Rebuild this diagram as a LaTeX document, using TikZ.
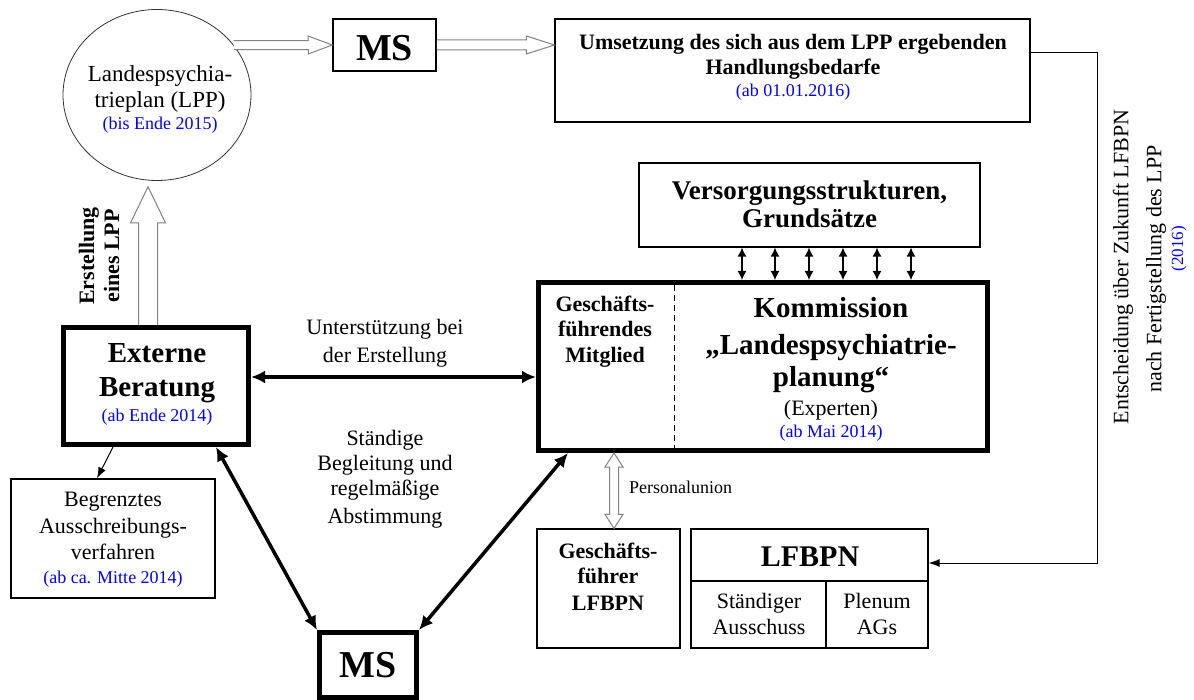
\documentclass[tikz,border=0pt]{standalone}
\usepackage{fontspec}
\setmainfont{Liberation Serif}
\usetikzlibrary{arrows.meta,calc,shapes.geometric}
\definecolor{lblue}{RGB}{0,0,255}
\definecolor{hgray}{RGB}{130,130,130}
\newcommand{\hollowarrow}[5]{%
  \coordinate (hwH) at ($(#2)!#5!(#1)$);
  \filldraw[hollow] ($(#1)!#3!90:(#2)$) -- ($(hwH)!#3!90:(#2)$) -- ($(hwH)!#4!90:(#2)$) -- (#2) -- ($(hwH)!#4!-90:(#2)$) -- ($(hwH)!#3!-90:(#2)$) -- ($(#1)!#3!-90:(#2)$);
}
\newcommand{\hollowdbl}[5]{%
  \coordinate (hdA) at ($(#1)!#5!(#2)$);
  \coordinate (hdB) at ($(#2)!#5!(#1)$);
  \filldraw[hollow] (#1) -- ($(hdA)!#4!90:(#2)$) -- ($(hdA)!#3!90:(#2)$) -- ($(hdB)!#3!90:(#2)$) -- ($(hdB)!#4!90:(#2)$) -- (#2) -- ($(hdB)!#4!-90:(#2)$) -- ($(hdB)!#3!-90:(#2)$) -- ($(hdA)!#3!-90:(#2)$) -- ($(hdA)!#4!-90:(#2)$) -- cycle;
}
\tikzset{
  tbox/.style={draw, rectangle, line width=1.2pt, inner sep=0},
  kbox/.style={draw, rectangle, line width=5pt, inner sep=0},
  rt/.style={inner sep=0, anchor=base, font=\fontsize{22}{26}\selectfont},
  bt/.style={inner sep=0, anchor=base, font=\fontsize{22}{26}\selectfont\bfseries},
  big/.style={inner sep=0, anchor=base, font=\fontsize{29}{34}\selectfont\bfseries},
  bl/.style={inner sep=0, anchor=base, text=lblue, font=\fontsize{18}{22}\selectfont},
  mstxt/.style={inner sep=0, anchor=base, font=\fontsize{38}{40}\selectfont\bfseries},
  hollow/.style={draw=hgray, fill=white, line width=1pt, line join=miter},
  thickdbl/.style={line width=3.5pt, {Latex[length=14pt,width=13pt]}-{Latex[length=14pt,width=13pt]}},
  smalldbl/.style={line width=1.2pt, {Latex[length=9pt,width=9pt]}-{Latex[length=9pt,width=9pt]}},
  thinarr/.style={line width=1pt, -{Latex[length=11pt,width=8pt]}},
}
\begin{document}
\begin{tikzpicture}[x=1pt,y=-1pt]
\fill[white] (0,0) rectangle (1194,700);
\useasboundingbox (0,0) rectangle (1194,700);

% circle LPP
\node[ellipse, draw=black!80, line width=0.8pt, minimum width=188pt, minimum height=171pt, inner sep=0] (circ) at (157,95) {};
\node[rt, font=\fontsize{23}{26}\selectfont] (c1) at (160,82) {Landespsychia-};
\node[rt, font=\fontsize{23}{26}\selectfont] (c2) at (160,108) {trieplan (LPP)};
\node[bl] (c3) at (160,130) {(bis Ende 2015)};

% top MS
\node[tbox, line width=1.5pt, minimum width=103pt, minimum height=52pt] (ms1) at (384.5,45) {};
\node[mstxt] (ms1t) at (384.5,61) {MS};

% Umsetzung
\node[tbox, minimum width=475pt, minimum height=103pt] (umset) at (792.5,70.5) {};
\node[bt] (u1) at (793,50) {Umsetzung des sich aus dem LPP ergebenden};
\node[bt] (u2) at (793,75) {Handlungsbedarfe};
\node[bl] (u3) at (793,97) {(ab 01.01.2016)};

% hollow arrows top
\hollowarrow{circ.33}{ms1.west}{4.5pt}{9pt}{24pt}
\coordinate (uW) at ([yshift=25.5pt]umset.west);
\hollowarrow{ms1.east}{uW}{5pt}{9pt}{28pt}

% Versorgungsstrukturen
\node[tbox, minimum width=341pt, minimum height=84pt] (vers) at (809.5,205) {};
\node[bt, font=\fontsize{27}{30}\selectfont\bfseries] (v1) at (809.5,200) {Versorgungsstrukturen,};
\node[bt, font=\fontsize{27}{30}\selectfont\bfseries] (v2) at (809.5,228) {Grundsätze};

% Kommission
\node[kbox, minimum width=449pt, minimum height=168pt] (komm) at (763,366.5) {};
\draw[dashed, line width=0.8pt, dash pattern=on 6pt off 4pt] (674,285) -- (674,449);
\node[bt] (k1) at (605,312) {Geschäfts-};
\node[bt] (k2) at (605,337) {führendes};
\node[bt] (k3) at (605,363) {Mitglied};
\node[big] (k4) at (831,318) {Kommission};
\node[big] (k5) at (831,355) {„Landespsychiatrie-};
\node[big] (k6) at (831,387) {planung“};
\node[rt] (k7) at (831,415) {(Experten)};
\node[bl] (k8) at (831,437) {(ab Mai 2014)};

\foreach \xx in {742,775,809,843,877,911}
  \draw[smalldbl] ($(vers.south west)+(\xx-638.4,0)$) -- ($(komm.north west)+(\xx-536,0)$);

% Externe Beratung
\node[kbox, minimum width=185pt, minimum height=117pt] (ext) at (156,386) {};
\node[big] (e1) at (157,363) {Externe};
\node[big] (e2) at (157,397) {Beratung};
\node[bl] (e3) at (157,421) {(ab Ende 2014)};

% Erstellung eines LPP
\node[rotate=90, align=center, inner sep=0, font=\fontsize{22}{25}\selectfont\bfseries] (erst) at (99,256) {Erstellung\\eines LPP};
\coordinate (eN) at ([xshift=-8pt]ext.north);
\coordinate (cS) at ([xshift=-9pt,yshift=-6pt]circ.south);
\hollowarrow{eN}{cS}{9.5pt}{17.5pt}{36pt}

% Unterstuetzung
\node[rt] (s1) at (385,335) {Unterstützung bei};
\node[rt] (s2) at (385,363) {der Erstellung};
\coordinate (eE) at ([yshift=9pt]ext.east);
\draw[thickdbl] (eE) -- (eE -| komm.west);

% Staendige
\node[rt] (a1) at (385,445) {Ständige};
\node[rt] (a2) at (385,470) {Begleitung und};
\node[rt] (a3) at (385,495) {regelmäßige};
\node[rt] (a4) at (385,523) {Abstimmung};

% Begrenztes
\node[tbox, minimum width=204pt, minimum height=119pt] (begr) at (113,538.5) {};
\node[rt] (b1) at (113,506) {Begrenztes};
\node[rt] (b2) at (113,533) {Ausschreibungs-};
\node[rt] (b3) at (113,559) {verfahren};
\node[bl] (b4) at (113,583) {(ab ca. Mitte 2014)};
\draw[thinarr] ([xshift=-43pt]ext.south) -- ([xshift=-16pt]begr.north);

% bottom MS
\node[kbox, minimum width=97pt, minimum height=64.5pt] (ms2) at (368,664.75) {};
\node[mstxt] (ms2t) at (368,677) {MS};
\draw[thickdbl] ([xshift=60pt]ext.south) -- (ms2.north west);
\draw[thickdbl] ([xshift=32pt]komm.south west) -- (ms2.north east);

% Geschaeftsfuehrer
\node[tbox, minimum width=143pt, minimum height=119pt] (gf) at (608.5,588.5) {};
\node[bt] (g1) at (608,558) {Geschäfts-};
\node[bt] (g2) at (608,583) {führer};
\node[bt] (g3) at (608,610) {LFBPN};

% Personalunion
\coordinate (puA) at ([xshift=78pt]komm.south west);
\coordinate (puB) at ([xshift=5.5pt]gf.north);
\hollowdbl{puA}{puB}{4.5pt}{9pt}{14pt}
\node[rt, anchor=base west, font=\fontsize{18}{20}\selectfont] (pu) at (629,493) {Personalunion};

% LFBPN
\node[tbox, minimum width=237pt, minimum height=119pt] (lfb) at (809.5,588.5) {};
\draw[line width=1.2pt] (691,581) -- (928,581);
\draw[line width=1.2pt] (826,581) -- (826,648);
\node[big, font=\fontsize{30}{34}\selectfont\bfseries] (l1) at (810,566) {LFBPN};
\node[rt] (l2) at (759,608) {Ständiger};
\node[rt] (l3) at (759,634) {Ausschuss};
\node[rt] (l4) at (877,608) {Plenum};
\node[rt] (l5) at (877,634) {AGs};

% right connector
\coordinate (uE) at ([yshift=17.5pt]umset.east);
\coordinate (lE) at ([yshift=25.5pt]lfb.east);
\coordinate (rail) at (1097,300);
\draw[thinarr] (uE) -| (rail) |- (lE);

% vertical text
\node[rotate=90, inner sep=0, font=\fontsize{22}{26}\selectfont] (r1) at (1123,267) {Entscheidung über Zukunft LFBPN};
\node[rotate=90, inner sep=0, font=\fontsize{22}{26}\selectfont] (r2) at (1156,269) {nach Fertigstellung des LPP};
\node[rotate=90, inner sep=0, text=lblue, font=\fontsize{17}{20}\selectfont] (r3) at (1179,249) {(2016)};
\end{tikzpicture}
\end{document}
